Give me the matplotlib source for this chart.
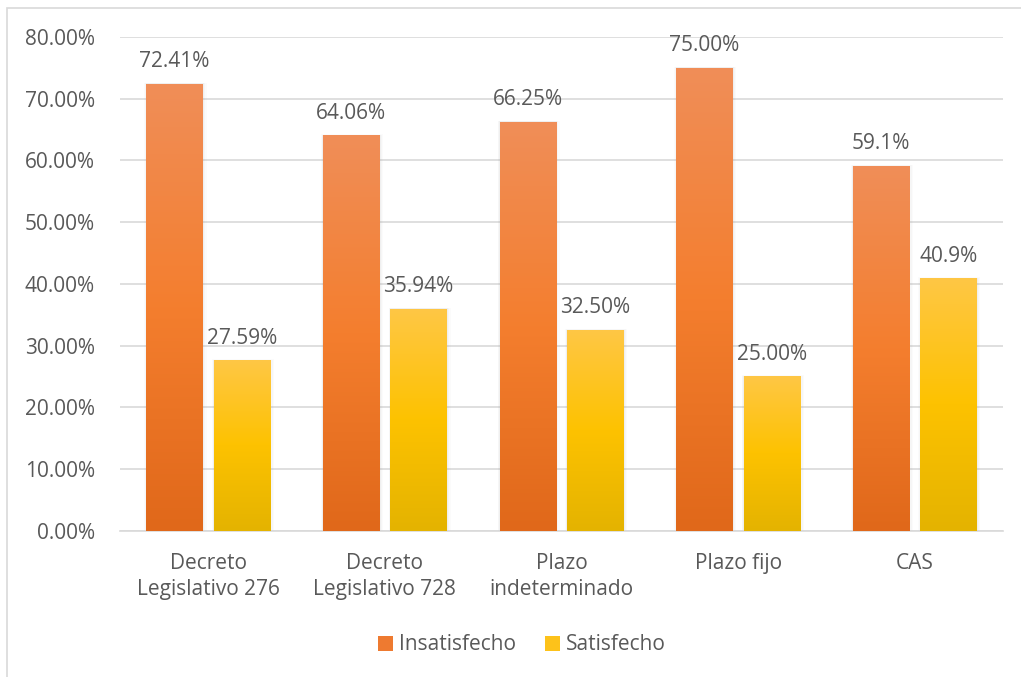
import matplotlib
matplotlib.use("Agg")
import matplotlib.pyplot as plt
import numpy as np
from matplotlib.colors import LinearSegmentedColormap
from matplotlib.patches import Rectangle
from matplotlib.ticker import FuncFormatter, MultipleLocator

categories = ["Decreto\nLegislativo 276", "Decreto\nLegislativo 728",
              "Plazo\nindeterminado", "Plazo fijo", "CAS"]
insatisfecho = [72.41, 64.06, 66.25, 75.00, 59.1]
satisfecho = [27.59, 35.94, 32.50, 25.00, 40.9]
insat_labels = ["72.41%", "64.06%", "66.25%", "75.00%", "59.1%"]
sat_labels = ["27.59%", "35.94%", "32.50%", "25.00%", "40.9%"]
series_names = ["Insatisfecho", "Satisfecho"]

plt.rcParams["font.family"] = ["Open Sans", "DejaVu Sans"]
TEXT = "#595959"
GRID = "#D9D9D9"
NUM_FS = 15
WORD_FS = 15

orange_cmap = LinearSegmentedColormap.from_list(
    "orange", ["#E0681A", "#F47E2E", "#F08E58"])
yellow_cmap = LinearSegmentedColormap.from_list(
    "yellow", ["#E4B300", "#FDC200", "#FFC745"])

W, H = 1021, 677
fig = plt.figure(figsize=(W / 100, H / 100), dpi=100)
fig.patch.set_facecolor("white")

# chart-area border (left and top edges visible)
fig.add_artist(Rectangle((7 / W, -0.05), 1.2, 1 - 8 / H + 0.05,
                         transform=fig.transFigure, fill=False,
                         edgecolor=GRID, linewidth=1.2))

ax = fig.add_axes([120 / W, 1 - 530.6 / H, 883 / W, (530.6 - 37) / H])
ax.set_xlim(-0.5, len(categories) - 0.5)
ax.set_ylim(0, 80)
ax.yaxis.set_major_locator(MultipleLocator(10))
ax.yaxis.set_major_formatter(FuncFormatter(lambda v, p: f"{v:.2f}%"))
ax.grid(axis="y", color=GRID, linewidth=1.2, zorder=0)
ax.set_axisbelow(True)
for s in ["top", "right", "left"]:
    ax.spines[s].set_visible(False)
ax.spines["bottom"].set_color(GRID)
ax.spines["bottom"].set_linewidth(1.2)
ax.tick_params(axis="both", length=0, colors=TEXT)
ax.tick_params(axis="y", pad=18, labelsize=NUM_FS)
ax.tick_params(axis="x", pad=16, labelsize=WORD_FS)
ax.set_xticks(range(len(categories)))
ax.set_xticklabels(categories, linespacing=1.3)

bar_w = 0.319
offset = 0.191
grad = np.linspace(0, 1, 256).reshape(-1, 1)


def draw_bar(xc, h, cmap, label):
    x0, x1 = xc - bar_w / 2, xc + bar_w / 2
    # soft shadow around the bar
    for i, a in enumerate([0.05, 0.04, 0.03]):
        d = 0.006 * (i + 1)
        ax.add_patch(Rectangle((x0 - d * 0.6, 0), bar_w + d * 1.8, h + d * 10,
                               facecolor="#808080", alpha=a, edgecolor="none",
                               zorder=2))
    ax.imshow(grad, cmap=cmap, origin="lower", aspect="auto",
              extent=(x0, x1, 0, h), zorder=3, interpolation="bicubic")
    ax.text(xc, h + 1.9, label, ha="center", va="bottom",
            fontsize=NUM_FS, color=TEXT, zorder=4)


for i in range(len(categories)):
    draw_bar(i - offset, insatisfecho[i], orange_cmap, insat_labels[i])
    draw_bar(i + offset, satisfecho[i], yellow_cmap, sat_labels[i])

ax.set_xlim(-0.5, len(categories) - 0.5)
ax.set_ylim(0, 80)

# legend
handles = [Rectangle((0, 0), 1, 1, facecolor="#EE7A30"),
           Rectangle((0, 0), 1, 1, facecolor="#FDC21A")]
fig.legend(handles, series_names, loc="center", ncol=2,
           bbox_to_anchor=(522 / W, 1 - 645 / H), frameon=False,
           fontsize=WORD_FS, labelcolor=TEXT, handlelength=0.7,
           handleheight=0.7, handletextpad=0.3, columnspacing=1.4)

fig.savefig("out.png", dpi=100)
